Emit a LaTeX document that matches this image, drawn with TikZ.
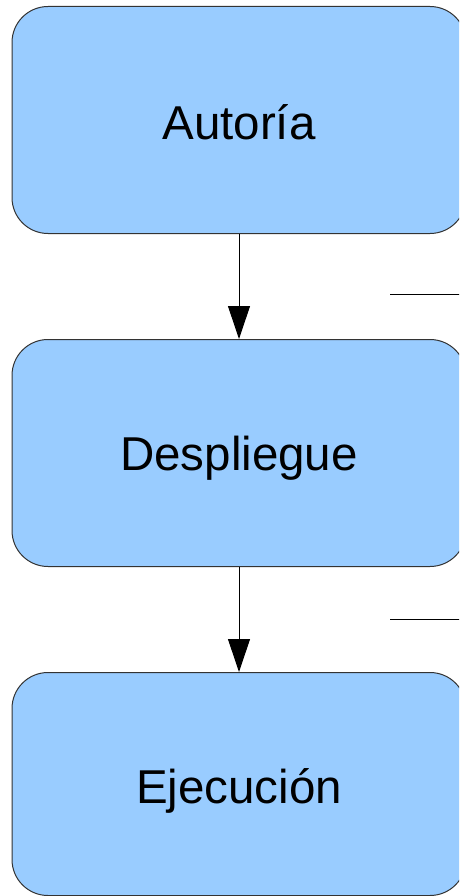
\documentclass[tikz,border=0pt]{standalone}
\usepackage{fontspec}
\setmainfont{Liberation Sans}
\usetikzlibrary{arrows.meta}
\definecolor{boxblue}{HTML}{99CCFF}
\definecolor{edge}{HTML}{333333}
\begin{document}
\begin{tikzpicture}[x=1pt,y=-1pt,
  stage/.style={draw=edge,line width=1pt,fill=boxblue,rounded corners=36pt,
    minimum width=454pt,inner sep=0pt,text depth=0pt,font=\fontsize{47.5}{56}\selectfont},
  flow/.style={draw=black,line width=1pt,-{Triangle[length=33pt,width=22pt]}},
  tickline/.style={draw=black,line width=1pt}]
\useasboundingbox (0,0) rectangle (459,896);
\begin{scope}
\clip (0,0) rectangle (459,896);
\node[stage,minimum height=227pt,text height=40pt] (b1) at (239,120) {Autoría};
\node[stage,minimum height=227pt,text height=34pt] (b2) at (239,453) {Despliegue};
\node[stage,minimum height=223pt,text height=38pt] (b3) at (239,784) {Ejecución};
\draw[flow] (b1.south) -- (b2.north);
\draw[flow] (b2.south) -- (b3.north);
\coordinate (m1a) at (390,294.5);
\coordinate (m1b) at (460,294.5);
\coordinate (m2a) at (390,619.5);
\coordinate (m2b) at (460,619.5);
\draw[tickline] (m1a) -- (m1b);
\draw[tickline] (m2a) -- (m2b);
\end{scope}
\end{tikzpicture}
\end{document}
